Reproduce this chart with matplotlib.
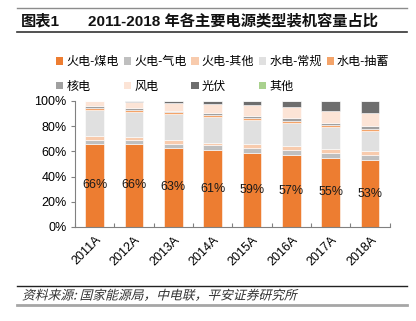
import numpy as np
import matplotlib.pyplot as plt
from matplotlib.lines import Line2D
from matplotlib.patches import Patch, PathPatch
from matplotlib.textpath import TextPath
from matplotlib.font_manager import FontProperties
from matplotlib.transforms import Affine2D

plt.rcParams['font.family'] = ['Liberation Sans', 'Noto Sans CJK SC', 'DejaVu Sans']

years = ['2011A', '2012A', '2013A', '2014A', '2015A', '2016A', '2017A', '2018A']
names = ['火电-煤电', '火电-气电', '火电-其他', '水电-常规', '水电-抽蓄',
         '核电', '风电', '光伏', '其他']
colors = ['#ED7D31', '#BFBFBF', '#F8CBAD', '#E0E0E0', '#F4A46A',
          '#A0A0A0', '#FCE4D6', '#6E6E6E', '#A9D18E']

# share of installed capacity, %
coal    = [66, 66, 63, 61, 59, 57, 55, 53]
gas     = [3.0, 3.2, 3.2, 4.0, 4.0, 4.0, 3.8, 3.8]
th_oth  = [3.3, 2.0, 2.6, 1.9, 2.6, 3.0, 2.8, 3.2]
hydro   = [20.4, 20.0, 20.6, 20.3, 19.5, 18.6, 17.6, 16.5]
pumped  = [1.7, 1.8, 1.8, 1.6, 1.5, 1.6, 1.6, 1.6]
nuclear = [1.2, 1.1, 1.2, 1.5, 1.7, 2.0, 2.0, 2.4]
wind    = [4.2, 5.3, 6.1, 7.0, 8.6, 8.9, 9.2, 9.7]
solar   = [0.2, 0.6, 1.5, 2.3, 3.1, 4.9, 8.0, 9.8]
other   = [0, 0, 0, 0.4, 0, 0, 0, 0]

series = [coal, gas, th_oth, hydro, pumped, nuclear, wind, solar, other]

fig = plt.figure(figsize=(4.16, 3.21), dpi=100)
ax = fig.add_axes([0.180, 0.293, 0.757, 0.3925])

x = np.arange(len(years))
bottom = np.zeros(len(years))
for vals, c in zip(series, colors):
    v = np.array(vals, dtype=float)
    ax.bar(x, v, 0.47, bottom=bottom, color=c, edgecolor='white', linewidth=0.4)
    bottom += v

for xi, v in zip(x, coal):
    ax.text(xi, v / 2, f'{v}%', ha='center', va='center', fontsize=9, color='#1a1a1a')

ax.set_xlim(-0.5, len(years) - 0.5)
ax.set_ylim(0, 100)
ax.set_yticks(range(0, 101, 20))
ax.set_yticklabels([f'{t}%' for t in range(0, 101, 20)], fontsize=9)
ax.set_xticks(x)
ax.set_xticklabels(years, fontsize=9, rotation=45, ha='right', va='top',
                   rotation_mode='anchor')
ax.tick_params(axis='x', length=0, pad=5)
ax.tick_params(axis='y', length=3, width=0.8, color='#808080', pad=3)
# small upward ticks between categories
ax.set_xticks(np.arange(-0.5, len(years)), minor=True)
ax.tick_params(axis='x', which='minor', direction='in', length=3, width=0.8, color='#808080')
for s in ['top', 'right']:
    ax.spines[s].set_visible(False)
for s in ['left', 'bottom']:
    ax.spines[s].set_color('#808080')
    ax.spines[s].set_linewidth(0.8)

# legend fills column by column, so interleave to get two rows
handles = [Patch(facecolor=c, edgecolor='none') for c in colors]
order = [0, 5, 1, 6, 2, 7, 3, 8, 4]
fig.legend([handles[i] for i in order], [names[i] for i in order], ncol=5,
           loc='upper left', bbox_to_anchor=(0.135, 0.825),
           frameon=False, fontsize=8.7, handlelength=0.6, handleheight=0.6,
           handletextpad=0.25, columnspacing=0.4, labelspacing=1.05,
           borderpad=0, borderaxespad=0)

# header and footer rules
def hline(y, c, lw):
    fig.add_artist(Line2D([17 / 416, 407 / 416], [1 - y / 321, 1 - y / 321],
                          color=c, lw=lw, transform=fig.transFigure))

hline(8, '#8c8c8c', 1.0)
hline(32, '#333333', 1.2)
hline(286, '#222222', 1.0)
hline(305, '#a6a6a6', 2.0)

fig.text(21 / 416, 1 - 21 / 321, '图表1', fontsize=11, fontweight='bold',
         va='center', ha='left', color='#111111')
fig.text(88 / 416, 1 - 21 / 321, '2011-2018 年各主要电源类型装机容量占比', fontsize=11,
         fontweight='bold', va='center', ha='left', color='#111111')

# source note, slanted by hand since the CJK font has no italic
fp = FontProperties(family='Noto Sans CJK SC')
tp = TextPath((0, 0), '资料来源: 国家能源局，中电联，平安证券研究所', size=9.2, prop=fp)
tr = (Affine2D().skew_deg(14, 0).scale(1 / 72).translate(0.22, 0.215)
      + fig.dpi_scale_trans)
fig.add_artist(PathPatch(tp, transform=tr, facecolor='#333333', edgecolor='none'))

fig.savefig('out.png', dpi=100)
